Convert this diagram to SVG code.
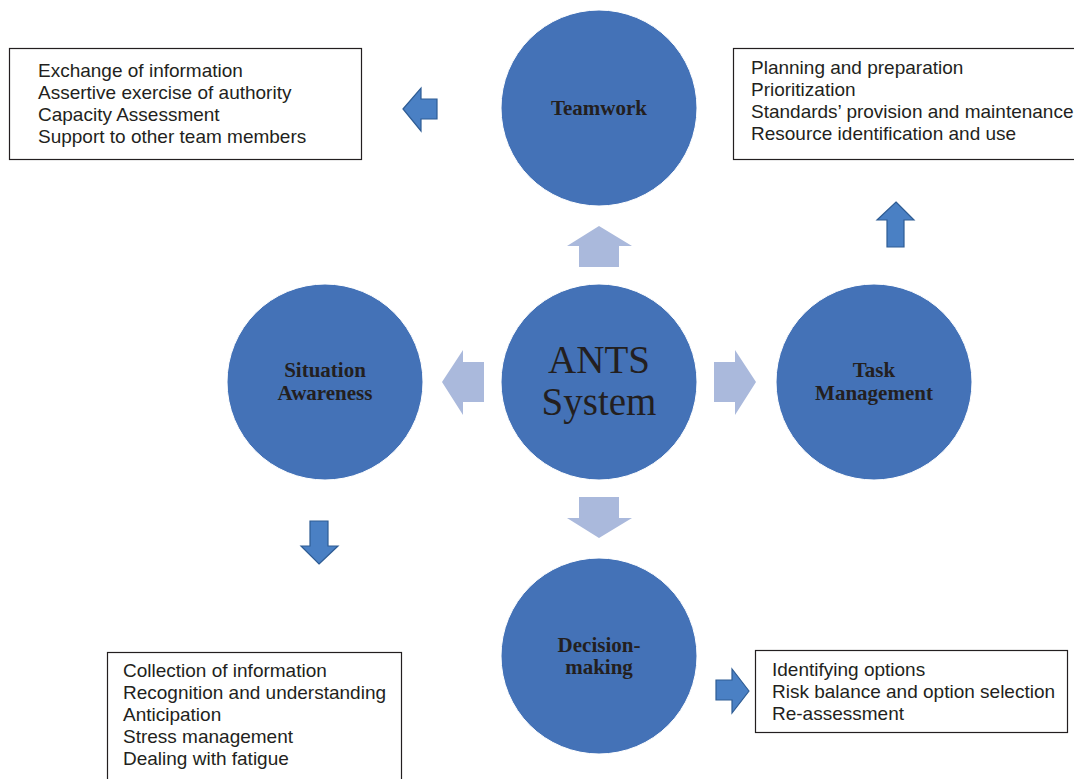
<svg xmlns="http://www.w3.org/2000/svg" width="1074" height="779" viewBox="0 0 1074 779">
<style>
.circ{fill:#4472B7;stroke:#ffffff;stroke-width:1}
.lbl{font-family:"Liberation Serif","Times New Roman",serif;font-weight:bold;font-size:21px;fill:#231F20;text-anchor:middle}
.big{font-family:"Liberation Serif","Times New Roman",serif;font-size:39px;fill:#231F20;text-anchor:middle}
.box{fill:#ffffff;stroke:#231F20;stroke-width:1.2}
.txt{font-family:"Liberation Sans",Arial,sans-serif;font-size:19px;fill:#231F20}
.la{fill:#AAB9DC}
.da{fill:#4A80C4;stroke:#2E5C94;stroke-width:1.2}
</style>
<rect width="1074" height="779" fill="#ffffff"/>
<g id="connectors">
<polygon class="la" points="599,226 632,246 619,246 619,267 579,267 579,246 567,246"/>
<polygon class="la" points="442,382 463,350 463,362 484,362 484,402 463,402 463,415"/>
<polygon class="la" points="756,382 735,350 735,362 714,362 714,402 735,402 735,415"/>
<polygon class="la" points="599,538 632,518 619,518 619,497 579,497 579,518 567,518"/>
<polygon class="da" points="403,109 421,88 421,99 437,99 437,119 421,119 421,131"/>
<polygon class="da" points="896,202 914,220 904,220 904,247 887,247 887,220 877,220"/>
<polygon class="da" points="319,564 338,546 328,546 328,521 310,521 310,546 301,546"/>
<polygon class="da" points="749,691 732,669 732,680 716,680 716,700 732,700 732,713"/>
</g>
<g id="teamwork">
<circle class="circ" cx="599" cy="108" r="98"/>
<text class="lbl" x="599" y="115">Teamwork</text>
</g>
<g id="ants">
<circle class="circ" cx="599" cy="382" r="98"/>
<text class="big" x="599" y="373">ANTS</text>
<text class="big" x="599" y="415">System</text>
</g>
<g id="situation">
<circle class="circ" cx="325" cy="382" r="98"/>
<text class="lbl" x="325" y="377">Situation</text>
<text class="lbl" x="325" y="400">Awareness</text>
</g>
<g id="task">
<circle class="circ" cx="874" cy="382" r="98"/>
<text class="lbl" x="874" y="377">Task</text>
<text class="lbl" x="874" y="400">Management</text>
</g>
<g id="decision">
<circle class="circ" cx="599" cy="656" r="98"/>
<text class="lbl" x="599" y="652">Decision-</text>
<text class="lbl" x="599" y="674">making</text>
</g>
<g id="teamwork-box">
<rect class="box" x="9.5" y="48.5" width="352" height="111"/>
<text class="txt" x="38" y="77">Exchange of information</text>
<text class="txt" x="38" y="99">Assertive exercise of authority</text>
<text class="txt" x="38" y="121">Capacity Assessment</text>
<text class="txt" x="38" y="143">Support to other team members</text>
</g>
<g id="task-box">
<rect class="box" x="733.5" y="48.5" width="360" height="111"/>
<text class="txt" x="751" y="74">Planning and preparation</text>
<text class="txt" x="751" y="96">Prioritization</text>
<text class="txt" x="751" y="118">Standards’ provision and maintenance</text>
<text class="txt" x="751" y="140">Resource identification and use</text>
</g>
<g id="situation-box">
<rect class="box" x="107.5" y="652.5" width="294" height="140"/>
<text class="txt" x="123" y="677">Collection of information</text>
<text class="txt" x="123" y="699">Recognition and understanding</text>
<text class="txt" x="123" y="721">Anticipation</text>
<text class="txt" x="123" y="743">Stress management</text>
<text class="txt" x="123" y="765">Dealing with fatigue</text>
</g>
<g id="decision-box">
<rect class="box" x="755.5" y="650.5" width="312" height="82"/>
<text class="txt" x="772" y="676">Identifying options</text>
<text class="txt" x="772" y="698">Risk balance and option selection</text>
<text class="txt" x="772" y="720">Re-assessment</text>
</g>
</svg>
